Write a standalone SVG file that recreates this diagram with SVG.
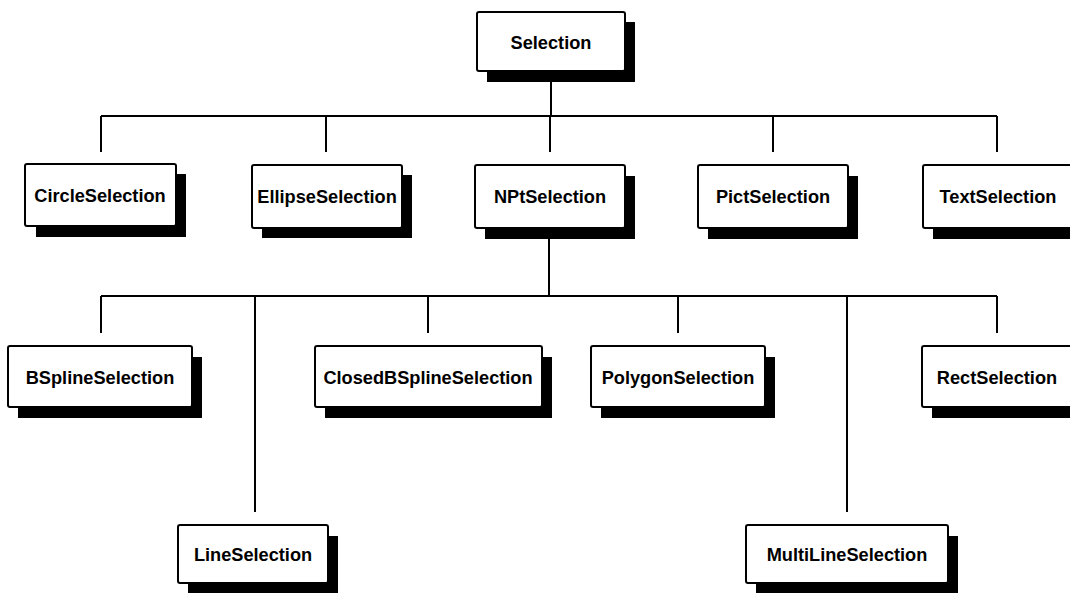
<svg xmlns="http://www.w3.org/2000/svg" width="1070" height="593" viewBox="0 0 1070 593">
<style>
.sh{fill:#000}
.bx{fill:#fff;stroke:#000;stroke-width:2}
.t{font-family:"Liberation Sans",Arial,sans-serif;font-weight:bold;font-size:18.2px;fill:#000;text-anchor:middle}
.c{stroke:#000;stroke-width:2;fill:none}
</style>
<rect width="1070" height="593" fill="#fff"/>
<g id="connectors">
<path class="c" d="M551 80V116M101 116H997M101 116V152M326 116V152M550 116V152M773 116V152M997 116V152"/>
<path class="c" d="M549 239V296M101 296H997M101 296V333M255 296V512M428 296V333M678 296V333M847 296V512M997 296V333"/>
</g>
<g id="Selection"><rect class="sh" x="487" y="22" width="148" height="60"/><rect class="bx" x="477" y="12" width="148" height="59" rx="2"/><text class="t" x="551" y="49">Selection</text></g>
<g id="CircleSelection"><rect class="sh" x="36" y="174" width="150" height="63"/><rect class="bx" x="25" y="164" width="151" height="62" rx="2"/><text class="t" x="100" y="202">CircleSelection</text></g>
<g id="EllipseSelection"><rect class="sh" x="262" y="175" width="150" height="63"/><rect class="bx" x="252" y="165" width="150" height="63" rx="2"/><text class="t" x="327" y="203">EllipseSelection</text></g>
<g id="NPtSelection"><rect class="sh" x="485" y="176" width="150" height="63"/><rect class="bx" x="475" y="165" width="150" height="63" rx="2"/><text class="t" x="550" y="203">NPtSelection</text></g>
<g id="PictSelection"><rect class="sh" x="708" y="176" width="150" height="63"/><rect class="bx" x="698" y="165" width="150" height="63" rx="2"/><text class="t" x="773" y="203">PictSelection</text></g>
<g id="TextSelection"><rect class="sh" x="933" y="176" width="150" height="63"/><rect class="bx" x="923" y="165" width="150" height="63" rx="2"/><text class="t" x="998" y="203">TextSelection</text></g>
<g id="BSplineSelection"><rect class="sh" x="18" y="357" width="184" height="61"/><rect class="bx" x="8" y="346" width="184" height="61" rx="2"/><text class="t" x="100" y="384">BSplineSelection</text></g>
<g id="ClosedBSplineSelection"><rect class="sh" x="325" y="357" width="227" height="61"/><rect class="bx" x="315" y="346" width="227" height="61" rx="2"/><text class="t" x="428" y="384">ClosedBSplineSelection</text></g>
<g id="PolygonSelection"><rect class="sh" x="601" y="357" width="174" height="61"/><rect class="bx" x="591" y="346" width="174" height="61" rx="2"/><text class="t" x="678" y="384">PolygonSelection</text></g>
<g id="RectSelection"><rect class="sh" x="932" y="357" width="150" height="61"/><rect class="bx" x="922" y="346" width="150" height="61" rx="2"/><text class="t" x="997" y="384">RectSelection</text></g>
<g id="LineSelection"><rect class="sh" x="188" y="536" width="150" height="58"/><rect class="bx" x="178" y="525" width="150" height="58" rx="2"/><text class="t" x="253" y="561">LineSelection</text></g>
<g id="MultiLineSelection"><rect class="sh" x="756" y="536" width="202" height="58"/><rect class="bx" x="746" y="525" width="202" height="58" rx="2"/><text class="t" x="847" y="561">MultiLineSelection</text></g>
</svg>
